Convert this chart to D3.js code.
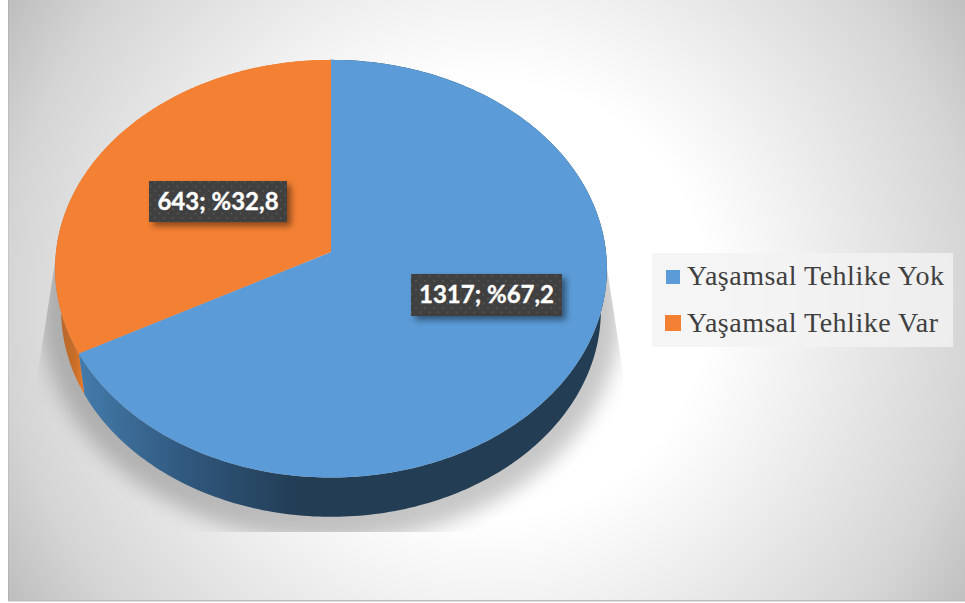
<!DOCTYPE html>
<html><head><meta charset="utf-8">
<script src="https://cdn.jsdelivr.net/npm/d3@7"></script>
<style>html,body{margin:0;padding:0;background:#fff}svg{display:block}</style>
</head><body><svg id="c" width="965" height="603"></svg>
<script>
const categories = ["Yaşamsal Tehlike Yok", "Yaşamsal Tehlike Var"];
const values = [1317, 643];
const colors = ["#5b9bd7", "#f48033"];

const svg = d3.select("#c");
const defs = svg.append("defs");
const W = 965, H = 603;
const color = d3.scaleOrdinal(categories, colors);
const total = d3.sum(values);
const fmt = d3.format(".1f");
const labelText = v => `${v}; %${fmt(v / total * 100).replace(".", ",")}`;

// perspective disc: a circle projected through a homography
const k = 0.08;
const discTop = {cx: 331, cy: 252, X: 275, Y: 207.5};
const discBot = {cx: 331, cy: 294, X: 269, Y: 205};
const project = (p, a, r = 1) => {
  const u = Math.sin(a) * r, v = -Math.cos(a) * r, d = 1 - k * v;
  return [p.cx + p.X * u / d, p.cy + p.Y * v / d];
};
const arcs = d3.pie().sort(null).value(d => d.v)(categories.map((c, i) => ({c, v: values[i]})));
const rim = (p, a0, a1) => d3.range(0, 241).map(i => project(p, a0 + (a1 - a0) * i / 240));
const line = d3.line();

// background
const bg = defs.append("radialGradient").attr("id", "bg").attr("gradientUnits", "userSpaceOnUse")
  .attr("cx", 490).attr("cy", 300).attr("r", 575);
[[0, "#ffffff"], [.38, "#ffffff"], [.53, "#f2f2f2"], [.84, "#d5d5d5"], [1, "#bcbcbc"]]
  .forEach(([o, c]) => bg.append("stop").attr("offset", o).attr("stop-color", c));
svg.append("rect").attr("x", 8).attr("y", 0).attr("width", W - 8).attr("height", 601).attr("fill", "url(#bg)");
svg.append("rect").attr("x", 8).attr("y", 0).attr("width", 1).attr("height", 601).attr("fill", "#000").attr("opacity", .07);
svg.append("rect").attr("x", 8).attr("y", 600).attr("width", W - 8).attr("height", 1.5).attr("fill", "#bdbdbd");

// ground shadow
defs.append("filter").attr("id", "blur").attr("x", "-20%").attr("y", "-20%").attr("width", "140%").attr("height", "140%")
  .append("feGaussianBlur").attr("stdDeviation", 10);
defs.append("clipPath").attr("id", "shClip").append("path")
  .attr("d", "M55,262L38,372L38,532L623,532L623,372L606,262Z");
svg.append("g").attr("clip-path", "url(#shClip)")
  .append("ellipse").attr("cx", 331).attr("cy", 312).attr("rx", 290).attr("ry", 229)
  .attr("fill", "#000").attr("opacity", .22).attr("filter", "url(#blur)");

// side walls
const gradBlue = defs.append("linearGradient").attr("id", "wall0").attr("gradientUnits", "userSpaceOnUse")
  .attr("x1", 85).attr("x2", 300).attr("y1", 0).attr("y2", 0);
[[0, "#4379a8"], [.5, "#2f567b"], [1, "#223d54"]].forEach(([o, c]) => gradBlue.append("stop").attr("offset", o).attr("stop-color", c));
const gradOr = defs.append("linearGradient").attr("id", "wall1").attr("gradientUnits", "userSpaceOnUse")
  .attr("x1", 62).attr("x2", 84).attr("y1", 0).attr("y2", 0);
[[0, "#b9682c"], [.6, "#c86e28"], [1, "#ea7c2e"]].forEach(([o, c]) => gradOr.append("stop").attr("offset", o).attr("stop-color", c));

svg.append("g").selectAll("path").data(arcs.slice().reverse()).join("path")
  .attr("fill", d => `url(#wall${d.index})`)
  .attr("d", d => line(rim(discTop, d.startAngle, d.endAngle).concat(rim(discBot, d.startAngle, d.endAngle).reverse())) + "Z");

// top surface
svg.append("g").selectAll("path").data(arcs).join("path")
  .attr("fill", d => color(d.data.c))
  .attr("d", d => line([project(discTop, 0, 0)].concat(rim(discTop, d.startAngle, d.endAngle))) + "Z");

// data labels
const pat = defs.append("pattern").attr("id", "dots").attr("patternUnits", "userSpaceOnUse").attr("width", 9).attr("height", 9);
pat.append("rect").attr("width", 9).attr("height", 9).attr("fill", "#404040");
[[2, 2], [6.5, 6.5]].forEach(([x, y]) => pat.append("circle").attr("cx", x).attr("cy", y).attr("r", .9).attr("fill", "#575757"));
const sh = defs.append("filter").attr("id", "lab").attr("x", "-15%").attr("y", "-30%").attr("width", "130%").attr("height", "170%");
sh.append("feDropShadow").attr("dx", 4).attr("dy", 4).attr("stdDeviation", 3).attr("flood-color", "#000").attr("flood-opacity", .45);

const labelBoxes = [[411, 274, 151, 42], [149, 181, 138, 41]];
const labels = svg.append("g").selectAll("g").data(arcs).join("g");
labels.append("rect")
  .attr("x", d => labelBoxes[d.index][0]).attr("y", d => labelBoxes[d.index][1])
  .attr("width", d => labelBoxes[d.index][2]).attr("height", d => labelBoxes[d.index][3])
  .attr("fill", "url(#dots)").attr("filter", "url(#lab)");
labels.append("text")
  .attr("x", d => labelBoxes[d.index][0] + labelBoxes[d.index][2] / 2)
  .attr("y", d => labelBoxes[d.index][1] + labelBoxes[d.index][3] / 2 + 8)
  .attr("text-anchor", "middle").attr("fill", "#fff")
  .attr("stroke", "#fff").attr("stroke-width", .35)
  .attr("font-family", "Lato, 'Open Sans', sans-serif").attr("font-weight", 700).attr("font-size", 24)
  .text(d => labelText(d.data.v));

// legend
svg.append("rect").attr("x", 652).attr("y", 253).attr("width", 301).attr("height", 94)
  .attr("fill", "#f2f2f2").attr("opacity", .8);
const swatch = [[666, 270, 14, 14], [665, 315, 16, 16]];
const baseY = [285, 332];
const leg = svg.append("g").selectAll("g").data(categories).join("g");
leg.append("rect").attr("x", (d, i) => swatch[i][0]).attr("y", (d, i) => swatch[i][1])
  .attr("width", (d, i) => swatch[i][2]).attr("height", (d, i) => swatch[i][3]).attr("fill", d => color(d));
leg.append("text").attr("x", 687).attr("y", (d, i) => baseY[i])
  .attr("font-family", "'Liberation Serif', serif").attr("font-size", 28).attr("letter-spacing", .5)
  .attr("fill", "#404040").text(d => d);
</script></body></html>
